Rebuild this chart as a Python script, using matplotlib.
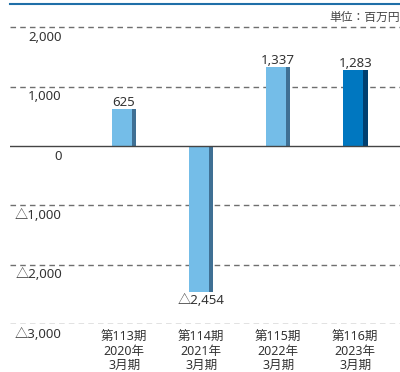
import matplotlib.pyplot as plt

plt.rcParams['font.family'] = ['Noto Sans', 'Noto Sans CJK JP', 'DejaVu Sans']

# 当期純利益（百万円）
periods = ['第113期\n2020年\n3月期', '第114期\n2021年\n3月期',
           '第115期\n2022年\n3月期', '第116期\n2023年\n3月期']
values = [625, -2454, 1337, 1283]
value_labels = ['625', '△2,454', '1,337', '1,283']
grid_values = [2000, 1000, -1000, -2000, -3000]
grid_labels = ['2,000', '1,000', '△1,000', '△2,000', '△3,000']

face = ['#74bde8', '#74bde8', '#74bde8', '#0077c0']
side = ['#3f7094', '#3f7094', '#3f7094', '#003f70']

fig = plt.figure(figsize=(4.0, 3.72), dpi=100)
ax = fig.add_axes([10 / 400, 48 / 372, 390 / 400, 320 / 372])
ax.set_xlim(-1.48, 3.58)
ax.set_ylim(-3000, 2395)

w = 0.26
ws = 0.058
xs = list(range(len(values)))
ax.bar([x - (w + ws) / 2 for x in xs], values, width=w, align='edge', color=face, zorder=3)
ax.bar([x - (w + ws) / 2 + w for x in xs], values, width=ws, align='edge', color=side, zorder=3)

# 目盛り線
for g in grid_values:
    ax.axhline(g, color='#6f6f6f', lw=1.0, ls=(0, (4, 3)), zorder=1)
ax.axhline(0, color='#444444', lw=1.0, zorder=4)

trans = ax.get_yaxis_transform()
for g, lbl in zip(grid_values + [0], grid_labels + ['0']):
    ax.annotate(lbl, xy=(0.133, g), xycoords=trans, xytext=(0, -10), textcoords='offset pixels',
                ha='right', va='center', fontsize=9.5, color='#333333')

for x, v, lbl in zip(xs, values, value_labels):
    if v >= 0:
        ax.annotate(lbl, xy=(x, v), xytext=(0, 0), textcoords='offset pixels',
                    ha='center', va='bottom', fontsize=9.5, color='#333333')
    else:
        ax.annotate(lbl, xy=(x, v), xytext=(0, -2), textcoords='offset pixels',
                    ha='center', va='top', fontsize=9.5, color='#333333')

ax.set_xticks(xs)
ax.set_xticklabels(periods, fontsize=9, color='#333333', linespacing=1.1)
ax.tick_params(axis='x', length=0, pad=5)
ax.set_yticks([])

for s in ['left', 'right', 'bottom']:
    ax.spines[s].set_visible(False)
ax.spines['top'].set_color('#1f6fa8')
ax.spines['top'].set_linewidth(1.5)

ax.text(1.0, 0.957, '単位：百万円', transform=ax.transAxes, ha='right', va='center',
        fontsize=8.5, color='#444444')

fig.savefig('out.png', dpi=100)
